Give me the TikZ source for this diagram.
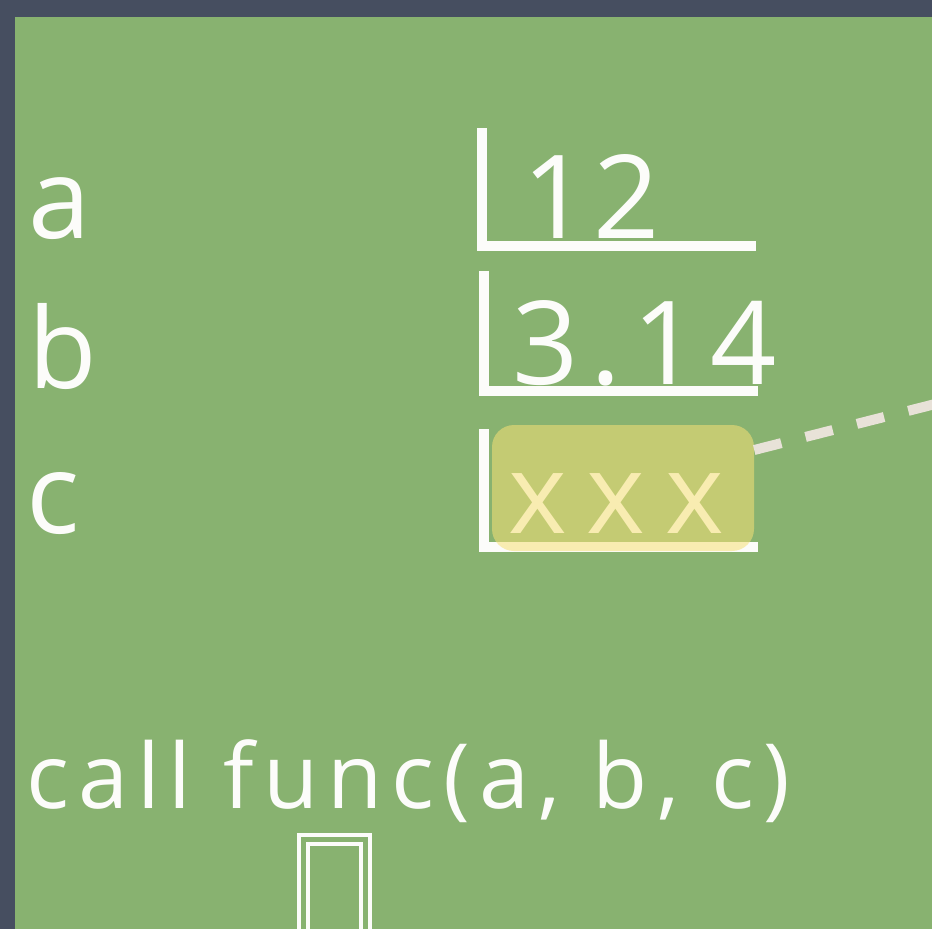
\documentclass[tikz,border=0pt]{standalone}
\usepackage{fontspec}
\usepackage{tikz}
\usetikzlibrary{positioning, calc}
\newfontfamily\chalkfont[LetterSpace=10]{Open Sans}
\newfontfamily\chalktight[LetterSpace=4]{Open Sans}
\newfontfamily\chalkwide[LetterSpace=18]{Open Sans}
\definecolor{slateedge}{RGB}{70,78,96}
\definecolor{boardgreen}{RGB}{136,178,112}
\definecolor{chalkwhite}{RGB}{252,252,250}
\definecolor{markyellow}{RGB}{246,224,118}
\definecolor{dashgray}{RGB}{232,226,216}
\tikzset{
  varlabel/.style={anchor=base west, inner sep=0pt, text=chalkwhite,
    font=\chalkfont\fontsize{112}{112}\selectfont},
  valtext/.style={anchor=base west, inner sep=0pt, text=chalkwhite,
    font=\chalktight\fontsize{116}{116}\selectfont},
  cellbox/.style={rectangle, inner sep=0pt, minimum width=273pt},
  cellline/.style={line width=10pt, color=chalkwhite},
  markbox/.style={rectangle, rounded corners=22pt, inner sep=0pt,
    fill=markyellow, fill opacity=0.55, minimum width=262pt,
    minimum height=126pt},
  linkdash/.style={line width=10pt, color=dashgray, dash pattern=on 28pt off 25pt},
  calltext/.style={anchor=base west, inner sep=0pt, text=chalkwhite,
    font=\chalkfont\fontsize{90}{90}\selectfont},
  framebox/.style={rectangle, draw=chalkwhite, line width=4pt,
    double=boardgreen, double distance=5pt, minimum width=62pt,
    minimum height=160pt, inner sep=0pt},
}
\begin{document}
\begin{tikzpicture}[x=1pt, y=-1pt]

  %% ── board ───────────────────────────────────────────────────
  \useasboundingbox (0,0) rectangle (932,929);
  \fill[slateedge] (0,0) rectangle (932,929);
  \fill[boardgreen] (15,17) rectangle (932,929);
  \clip (0,0) rectangle (932,929);

  %% ── variable names ──────────────────────────────────────────
  \node[varlabel] (la) at (28,238) {a};
  \node[varlabel] (lb) at (28,388) {b};
  \node[varlabel] (lc) at (26,533) {c};

  %% ── memory cells ────────────────────────────────────────────
  \node[cellbox, minimum height=117pt] (ca) at (619,187) {};
  \node[cellbox, minimum height=120pt] (cb) at (621,331) {};
  \node[cellbox, minimum height=117pt] (cc) at (621,488) {};

  \draw[cellline] (ca.north west) -- (ca.south west) -- (ca.south east);
  \draw[cellline] (cb.north west) -- (cb.south west) -- (cb.south east);
  \draw[cellline] (cc.north west) -- (cc.south west) -- (cc.south east);

  \node[valtext] (va) at (522,238) {12};
  \node[valtext, font=\chalkfont\fontsize{116}{116}\selectfont] (vb)
    at (512,384) {3.14};
  \node[valtext, font=\chalkwide\fontsize{112}{112}\selectfont] (vc)
    at (508,533) {xxx};

  % highlighted cell and its link
  \node[markbox] (mark) at (623,488) {};
  \coordinate (far) at (1010,385);
  \draw[linkdash] ([yshift=38pt]mark.east) -- (far);

  %% ── call line ───────────────────────────────────────────────
  \node[calltext] (call) at (26,808) {call func(a, b, c)};
  \node[framebox, anchor=north] (frame) at (334,837) {};

\end{tikzpicture}
\end{document}
